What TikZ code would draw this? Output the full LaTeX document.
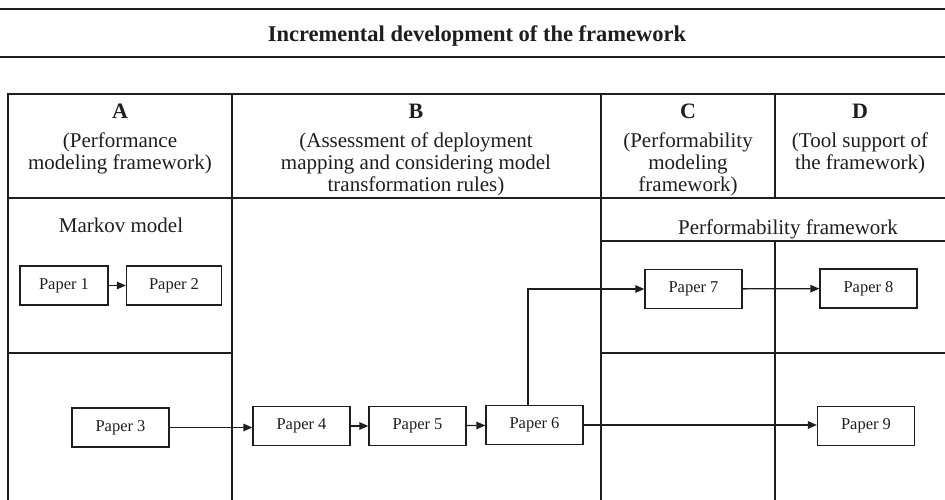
\documentclass[tikz,border=0pt]{standalone}
\usepackage{fontspec}
\setmainfont{Liberation Serif}
\usetikzlibrary{arrows.meta}
\definecolor{ink}{HTML}{1E1E1E}
\tikzset{
  grid/.style={ink, line width=1.6pt},
  paper/.style={draw=ink, line width=1.3pt, minimum height=39pt, minimum width=97pt, inner sep=0pt, font=\fontsize{16.5pt}{18pt}\selectfont, text=ink},
  lbl/.style={font=\fontsize{21pt}{22pt}\selectfont, align=center, inner sep=0pt, anchor=base, text=ink},
  letter/.style={font=\fontsize{22pt}{22pt}\selectfont\bfseries, inner sep=0pt, anchor=base, text=ink},
  conn/.style={ink, line width=1.3pt, -{Triangle[length=9pt,width=7.5pt]}}
}
\begin{document}
\begin{tikzpicture}[x=1pt,y=-1pt]
\useasboundingbox (0,0) rectangle (945,500);
% title rules
\draw[ink, line width=1.8pt] (0,9) -- (945,9);
\draw[ink, line width=1.8pt] (0,57) -- (945,57);
\node[font=\fontsize{22.5pt}{22.5pt}\selectfont\bfseries, anchor=base, inner sep=0pt, text=ink] (title) at (477,42) {Incremental development of the framework};
% table
\draw[grid] (8,500) -- (8,94) -- (945,94);
\draw[grid] (8,198) -- (945,198);
\draw[grid] (232,94) -- (232,500);
\draw[grid] (601,94) -- (601,500);
\draw[grid] (775,94) -- (775,198);
\draw[grid] (775,241) -- (775,500);
\draw[grid] (601,241) -- (945,241);
\draw[grid] (8,353) -- (232,353);
\draw[grid] (601,353) -- (945,353);
% headers (base anchor = baseline of the last line)
\node[letter] (hA) at (120,119) {A};
\node[letter] (hB) at (416,119) {B};
\node[letter] (hC) at (688,119) {C};
\node[letter] (hD) at (860,119) {D};
\node[lbl] (tA) at (120,169) {(Performance\\modeling framework)};
\node[lbl] (tB) at (416,191) {(Assessment of deployment\\mapping and considering model\\transformation rules)};
\node[lbl] (tC) at (688,191) {(Performability\\modeling\\framework)};
\node[lbl] (tD) at (860,169) {(Tool support of\\the framework)};
\node[lbl] (markov) at (121,232) {Markov model};
\node[lbl] (perf) at (788,234) {Performability framework};
% papers
\node[paper, minimum width=88pt] (p1) at (64,285.5) {Paper 1};
\node[paper, minimum width=95pt] (p2) at (174,285.5) {Paper 2};
\node[paper] (p3) at (120.5,427.5) {Paper 3};
\node[paper] (p4) at (301.5,426) {Paper 4};
\node[paper] (p5) at (417.5,426) {Paper 5};
\node[paper] (p6) at (534.5,425) {Paper 6};
\node[paper] (p7) at (693.5,289) {Paper 7};
\node[paper] (p8) at (868.5,288.5) {Paper 8};
\node[paper] (p9) at (866,426) {Paper 9};
% connectors
\draw[conn] (p1) -- (p2);
\draw[conn] (p3.east) -- (p3.east -| p4.west);
\draw[conn] (p4) -- (p5);
\draw[conn] (p5) -- (p6);
\draw[conn] (p6.east) -- (p6.east -| p9.west);
\draw[conn] ([xshift=-6.5pt]p6.north) |- (p7.west);
\draw[conn] (p7) -- (p8);
\end{tikzpicture}
\end{document}
